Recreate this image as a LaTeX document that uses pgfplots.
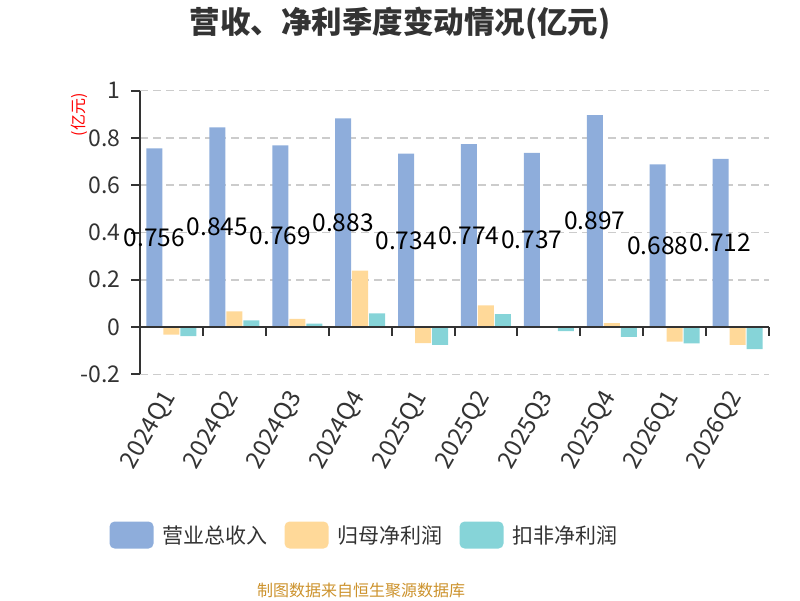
\documentclass[border=0pt]{standalone}
\usepackage{pgfplots}
\pgfplotsset{compat=1.18}
\usepackage{fontspec}
\setmainfont{Noto Sans CJK SC}
\definecolor{cblue}{RGB}{142,173,219}
\definecolor{corange}{RGB}{255,217,153}
\definecolor{cteal}{RGB}{134,212,216}
\definecolor{axc}{RGB}{51,51,51}
\definecolor{gridc}{RGB}{204,204,204}
\definecolor{foot}{RGB}{204,146,44}
\begin{document}
\begin{tikzpicture}[x=1pt,y=1pt]
\path[use as bounding box] (0,0) rectangle (800,600);
\node[font=\fontsize{30.5}{30.5}\selectfont\bfseries, text=axc] at (400,577) {营收、净利季度变动情况(亿元)};
\node[font=\fontsize{16}{16}\selectfont, text=red, rotate=90] at (79,485) {(亿元)};
\node[font=\fontsize{16}{16}\selectfont, text=foot] at (361,10) {制图数据来自恒生聚源数据库};
\begin{axis}[
  at={(140pt,225.7pt)}, anchor=south west,
  scale only axis, width=629pt, height=283.6pt,
  xmin=-0.5, xmax=9.5, ymin=-0.2, ymax=1,
  axis line style={draw=none},
  tick pos=left,
  xtick={0,...,9},
  xticklabels={2024Q1,2024Q2,2024Q3,2024Q4,2025Q1,2025Q2,2025Q3,2025Q4,2026Q1,2026Q2},
  xtick style={draw=none},
  xticklabel style={rotate=60, anchor=east, font=\fontsize{24}{24}\selectfont, text=axc, xshift=-6pt, yshift=-4pt},
  ytick={-0.2,0,0.2,0.4,0.6,0.8,1},
  yticklabels={-0.2,0,0.2,0.4,0.6,0.8,1},
  yticklabel style={font=\fontsize{23}{23}\selectfont, text=axc, xshift=-7pt},
  ytick style={draw=axc, line width=2pt},
  tick align=outside, major tick length=9pt,
  ymajorgrids, grid style={gridc, line width=1.6pt, dash pattern=on 8pt off 5pt},
  clip=false,
  legend columns=3,
  legend cell align=left,
  legend style={draw=none, fill=none, at={(axis description cs:0.357,-0.5667)}, anchor=center,
    font=\fontsize{21}{21}\selectfont, text=axc,
    /tikz/every odd column/.append style={column sep=7pt},
    /tikz/every even column/.append style={column sep=15pt}},
  legend image code/.code={\fill[rounded corners=5pt] (0pt,-13.5pt) rectangle (44pt,13.5pt);},
]
\addplot[ybar, bar width=16pt, bar shift=-17pt, fill=cblue, draw=none] coordinates {
(0,0.756) (1,0.845) (2,0.769) (3,0.883) (4,0.734) (5,0.774) (6,0.737) (7,0.897) (8,0.688) (9,0.712)};
\addlegendentry{营业总收入}
\addplot[ybar, bar width=16pt, bar shift=0pt, fill=corange, draw=none] coordinates {
(0,-0.032) (1,0.066) (2,0.035) (3,0.239) (4,-0.068) (5,0.092) (6,-0.003) (7,0.017) (8,-0.062) (9,-0.076)};
\addlegendentry{归母净利润}
\addplot[ybar, bar width=16pt, bar shift=17pt, fill=cteal, draw=none] coordinates {
(0,-0.038) (1,0.028) (2,0.014) (3,0.058) (4,-0.075) (5,0.055) (6,-0.017) (7,-0.042) (8,-0.069) (9,-0.093)};
\addlegendentry{扣非净利润}
\addplot[only marks, mark=none, nodes near coords, point meta=explicit symbolic, forget plot,
  every node near coord/.append style={anchor=center, xshift=-17pt, font=\fontsize{24.5}{24.5}\selectfont, text=black}]
  coordinates {
(0,0.378)[0.756] (1,0.4225)[0.845] (2,0.3845)[0.769] (3,0.4415)[0.883] (4,0.367)[0.734]
(5,0.387)[0.774] (6,0.3685)[0.737] (7,0.4485)[0.897] (8,0.344)[0.688] (9,0.356)[0.712]};
\draw[axc, line width=2pt] (axis cs:-0.5,-0.2) -- (axis cs:-0.5,1);
\draw[axc, line width=2pt] (axis cs:-0.5,0) -- (axis cs:9.5,0);
\pgfplotsinvokeforeach{-0.5,0.5,1.5,2.5,3.5,4.5,5.5,6.5,7.5,8.5,9.5}{
  \draw[axc, line width=2pt] (axis cs:#1,0) -- ([yshift=-9pt]axis cs:#1,0);
}
\end{axis}
\end{tikzpicture}
\end{document}
